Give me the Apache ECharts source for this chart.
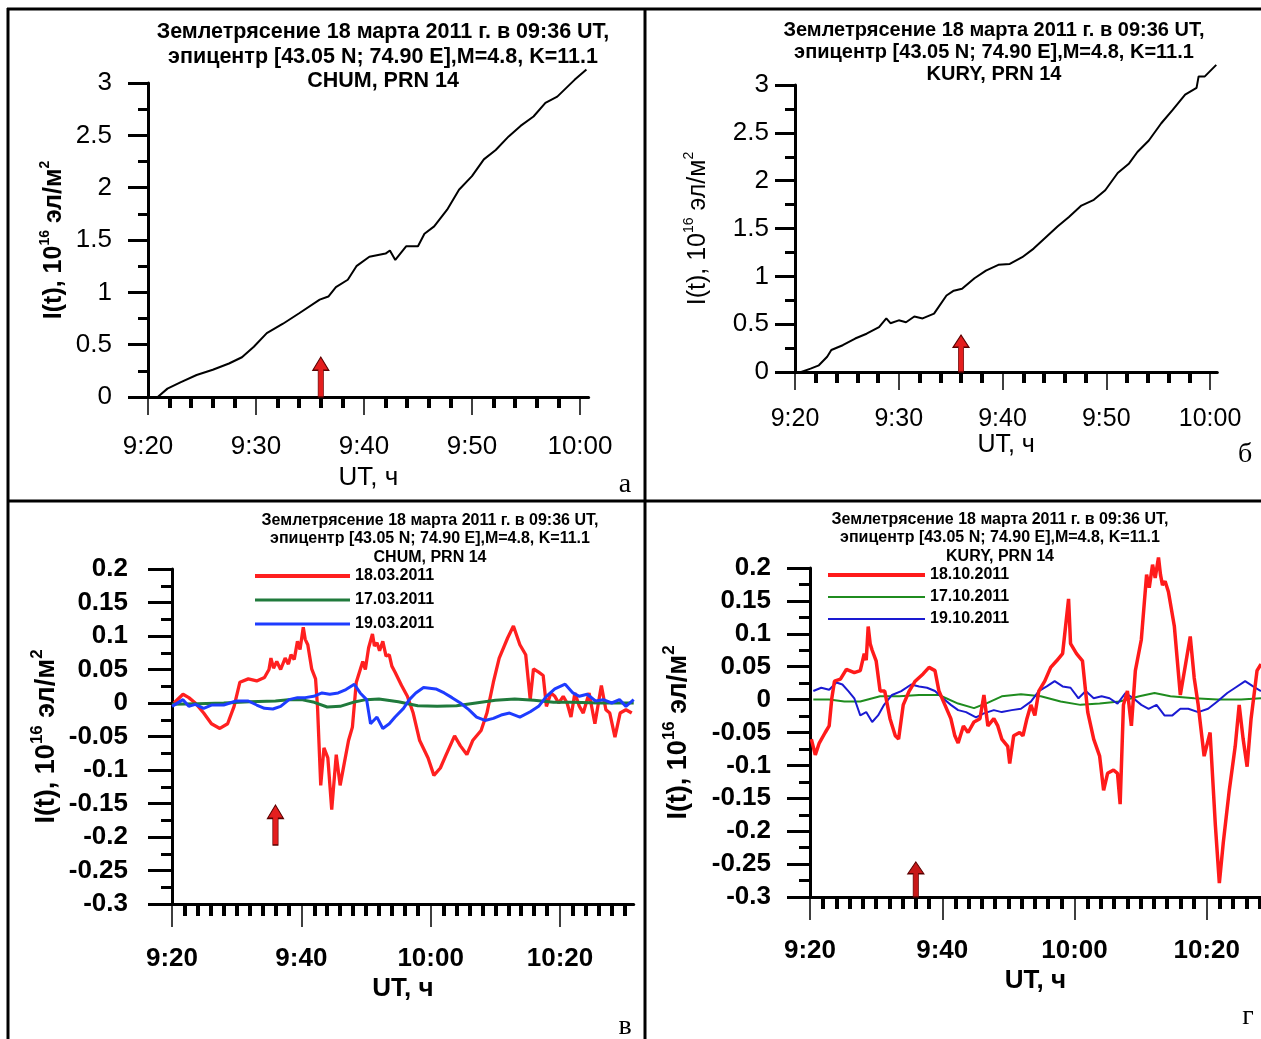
<!DOCTYPE html>
<html><head><meta charset="utf-8">
<script src="https://cdn.jsdelivr.net/npm/echarts@6/dist/echarts.min.js"></script>
<style>html,body{margin:0;padding:0;background:#fff}#c{width:1261px;height:1039px}</style>
</head><body><div id="c"></div>
<script>
// ---- data: time in minutes after 9:20 UT, TEC in 10^16 el/m^2 ----
const aTime = [0.9,1.8,3.0,4.5,6.0,7.5,8.7,9.8,11.0,12.5,14.0,15.9,16.7,17.4,18.5,19.3,20.5,22.0,22.4,22.9,23.9,25.0,25.6,26.5,27.7,28.8,30.0,31.1,32.2,33.4,34.5,35.7,36.8,37.9,39.5,40.6];
const aTec  = [0,0.08,0.14,0.21,0.26,0.32,0.38,0.48,0.61,0.70,0.80,0.93,0.96,1.05,1.12,1.25,1.34,1.37,1.40,1.31,1.44,1.44,1.56,1.63,1.79,1.98,2.11,2.27,2.36,2.49,2.59,2.68,2.81,2.87,3.03,3.13];

const bTime = [0.6,1.5,2.3,3.1,3.5,4.6,5.8,6.9,8.1,8.8,9.2,10.0,10.7,11.5,12.3,13.4,14.6,15.3,16.1,17.3,18.4,19.6,20.7,21.9,23.0,24.1,25.3,26.4,27.6,28.8,29.9,31.1,32.2,33.0,34.1,35.3,36.4,37.6,38.7,38.9,39.5,40.6];
const bTec  = [0,0.035,0.07,0.16,0.23,0.28,0.35,0.40,0.47,0.56,0.51,0.54,0.52,0.58,0.56,0.61,0.80,0.85,0.87,0.98,1.06,1.12,1.13,1.20,1.29,1.40,1.52,1.62,1.74,1.80,1.90,2.08,2.18,2.30,2.42,2.60,2.74,2.90,2.97,3.09,3.09,3.21];

const vRedTime = [0.3,1.7,2.6,3.6,4.9,6.1,7.4,8.6,9.6,10.5,11.8,13.1,14.3,15.0,15.3,15.7,16.2,16.8,17.5,18.0,18.4,18.9,19.4,19.8,20.3,20.6,21.0,21.6,22.2,22.5,23.0,23.5,24.1,24.7,25.4,26.0,26.6,27.3,27.9,28.5,29.5,29.9,30.4,31.0,31.3,31.7,32.1,32.6,33.1,33.6,34.0,34.5,35.5,36.4,37.3,38.3,39.6,40.5,41.5,42.4,43.7,44.6,45.6,46.5,47.8,48.7,49.7,50.6,51.9,52.8,53.8,54.7,55.4,55.9,56.7,57.4,57.9,58.6,59.2,59.8,60.5,61.1,61.7,62.3,63.0,63.6,64.5,65.4,66.4,67.1,67.7,68.5,69.3,70.2,71.1];
const vRed     = [0,0.013,0.008,0,-0.015,-0.031,-0.038,-0.031,-0.005,0.031,0.036,0.033,0.038,0.05,0.067,0.052,0.062,0.05,0.067,0.058,0.072,0.065,0.092,0.08,0.113,0.095,0.087,0.051,0.036,-0.005,-0.123,-0.067,-0.082,-0.159,-0.077,-0.123,-0.092,-0.056,-0.036,0.031,0.062,0.05,0.082,0.103,0.085,0.09,0.078,0.092,0.07,0.072,0.055,0.046,0.026,0.010,-0.015,-0.056,-0.082,-0.108,-0.097,-0.077,-0.049,-0.064,-0.077,-0.056,-0.041,-0.015,0.031,0.067,0.097,0.115,0.087,0.072,0.005,0.051,0.046,0.041,-0.005,0.015,0.010,0,0.010,0,-0.021,0.015,-0.005,-0.015,0.015,-0.031,0.026,-0.010,-0.015,-0.051,-0.015,-0.010,-0.015];
const vGreenTime = [0,4,8,12,16,18,20,22,24,26,28,30,32,35,38,41,44,47,50,53,56,59,62,66,71.4];
const vGreen     = [-0.002,-0.001,0,0.002,0.003,0.005,0.005,0.001,-0.006,-0.005,0.001,0.005,0.006,0.002,-0.004,-0.005,-0.004,0,0.004,0.006,0.004,0.001,0.001,0,0];
const vBlueTime = [0,1.7,2.6,3.6,4.9,6.1,8.0,9.9,11.8,13.1,14.3,15.6,16.8,18.1,19.4,20.6,21.9,23.2,24.4,25.7,26.9,28.2,29.1,30.1,30.7,31.7,32.6,33.6,34.5,35.8,36.7,37.7,38.9,40.8,42.1,43.3,44.6,45.9,47.1,48.4,49.7,50.9,52.2,53.8,55.4,56.7,57.9,59.2,60.8,62.0,63.0,64.2,65.5,66.7,68.0,69.2,70.2,71.4];
const vBlue     = [-0.005,0.005,-0.005,-0.002,-0.008,-0.003,-0.003,0.003,0.003,-0.003,-0.008,-0.009,-0.005,0.005,0.008,0.008,0.010,0.015,0.013,0.015,0.020,0.028,0.015,0.005,-0.031,-0.021,-0.038,-0.031,-0.021,-0.008,0.005,0.015,0.023,0.021,0.015,0.008,0,-0.010,-0.021,-0.026,-0.023,-0.018,-0.015,-0.021,-0.013,-0.005,0.010,0.021,0.028,0.015,0.010,0.013,0.003,0.005,0,0.005,-0.005,0.005];

const gRedTime = [0.2,0.8,1.4,2.3,2.9,3.3,3.7,4.6,5.5,6.7,7.6,8.2,8.5,8.8,9.1,9.4,10.0,10.6,11.3,12.1,12.9,13.4,14.1,15.0,15.9,17.1,18.0,18.9,19.5,20.4,21.3,21.9,22.4,23.2,23.9,24.8,25.7,26.3,26.9,27.8,28.4,29.0,29.9,30.2,30.8,31.7,32.2,32.8,33.4,34.0,34.6,35.5,36.4,37.3,38.2,39.1,39.4,40.3,41.2,42.0,42.9,43.8,44.4,45.0,45.9,46.5,46.9,47.4,48.0,48.6,49.2,50.1,50.9,51.3,51.8,52.2,52.7,53.0,53.3,53.7,54.2,55.1,56.0,56.8,57.5,58.1,58.7,59.6,60.5,61.3,61.9,62.5,63.4,64.3,64.9,65.5,66.1,66.7,67.6,68.2];
const gRed     = [-0.060,-0.084,-0.066,-0.050,-0.040,0.002,0.028,0.031,0.046,0.041,0.044,0.070,0.06,0.111,0.085,0.075,0.059,0.013,0.013,-0.029,-0.055,-0.060,-0.008,0.013,0.028,0.039,0.049,0.044,0.013,-0.008,-0.029,-0.055,-0.066,-0.040,-0.050,-0.034,-0.029,0.007,-0.040,-0.029,-0.040,-0.060,-0.071,-0.097,-0.055,-0.050,-0.055,-0.029,-0.008,-0.024,0.013,0.028,0.049,0.059,0.070,0.153,0.085,0.070,0.059,-0.019,-0.060,-0.086,-0.138,-0.112,-0.107,-0.112,-0.159,-0.008,0.013,-0.040,0.044,0.091,0.190,0.17,0.205,0.185,0.216,0.19,0.174,0.18,0.164,0.111,0.007,0.054,0.096,0.033,-0.008,-0.086,-0.050,-0.191,-0.279,-0.217,-0.138,-0.071,-0.008,-0.060,-0.102,-0.029,0.044,0.054];
const gGreenTime = [0.5,2.9,5.2,7.6,10.6,13.5,16.5,19.5,22.4,24.8,26.6,29.0,31.9,34.9,37.9,40.9,43.8,46.8,49.8,52.1,54.5,58.1,61.6,65.2,68.2];
const gGreen     = [0,0,-0.003,-0.003,0.005,0.005,0.007,0.007,-0.006,-0.013,-0.006,0.005,0.008,0.005,-0.003,-0.008,-0.006,-0.003,0.005,0.010,0.005,0.002,0,0,0.002];
const gBlueTime = [0.5,1.7,2.9,4.0,4.9,5.8,6.7,7.6,8.5,9.4,10.3,11.2,12.4,13.8,15.3,16.5,17.7,18.9,20.1,21.3,22.4,23.6,25.1,26.3,27.8,29.0,30.5,31.9,33.4,34.6,35.8,37.0,38.2,39.4,40.6,41.7,42.9,44.1,45.3,46.5,47.7,48.9,50.1,51.2,52.4,53.6,54.8,56.0,57.2,58.7,60.2,61.6,63.1,64.3,65.8,67.0,68.2];
const gBlue     = [0.013,0.018,0.015,0.026,0.023,0.013,0.002,-0.024,-0.019,-0.034,-0.024,-0.008,0.007,0.013,0.023,0.020,0.018,0.013,0.002,-0.008,-0.016,-0.019,-0.027,-0.021,-0.016,-0.019,-0.016,-0.014,-0.003,0.013,0.020,0.028,0.020,0.018,0.002,0.013,0.002,0.005,0.002,-0.006,0.010,0.002,-0.008,-0.014,-0.008,-0.024,-0.024,-0.014,-0.014,-0.019,-0.014,-0.003,0.010,0.018,0.028,0.020,0.013];

// tick values (minutes after 9:20)
const abMajor = [0,10,20,30,40];
const abMinor = [2,4,6,8,12,14,16,18,22,24,26,28,32,34,36,38];
const vgMajor = [0,20,40,60];
const vgMinor = [2,4,6,8,10,12,14,16,18,22,24,26,28,30,32,34,36,38,42,44,46,48,50,52,54,56,58,62,64,66,68,70];
const quakeMinute = 16; // 09:36 UT

const titleAB = ['Землетрясение 18 марта 2011 г. в 09:36 UT,', 'эпицентр [43.05 N; 74.90 E],M=4.8, K=11.1'];
const legendV = ['18.03.2011','17.03.2011','19.03.2011'];
const legendG = ['18.10.2011','17.10.2011','19.10.2011'];

// ---- helpers ----
const pairs = (t, v) => t.map((x, i) => [x, v[i]]);
const fmt = v => { const tot = 560 + Math.round(v); const h = Math.floor(tot / 60), m = tot % 60; return h + ':' + (m < 10 ? '0' : '') + m; };
const SANS = "'Liberation Sans', Arial, sans-serif";
const ARROW = 'path://M7,60 L7,20 L1,20 L10,0 L19,20 L13,20 L13,60 Z';
const THICK = 'path://M0,0H100V4H0Z';
const THIN3 = 'path://M0,0H100V3.4H0Z';
const THIN = 'path://M0,0H100V2H0Z';

function mainX(grid, max, majors, opt) {
  return {
    type: 'value', gridIndex: grid, min: 0, max: max, position: 'bottom',
    axisLine: { show: true, onZero: false, lineStyle: { color: '#000', width: 3 } },
    axisTick: { show: true, customValues: majors, length: opt.tickLen, lineStyle: { color: '#000', width: 1.5 } },
    axisLabel: { customValues: majors, formatter: fmt, margin: opt.margin, color: '#000',
      fontSize: opt.fs, fontWeight: opt.fw, fontFamily: SANS },
    splitLine: { show: false },
    name: 'UT, ч', nameLocation: 'middle', nameGap: opt.nameGap, nameMoveOverlap: false,
    nameTextStyle: { color: '#000', fontSize: opt.fs, fontWeight: opt.fw, fontFamily: SANS }
  };
}
function minorX(grid, max, minors, len) {
  return {
    type: 'value', gridIndex: grid, min: 0, max: max, position: 'bottom',
    axisLine: { show: false, onZero: false },
    axisTick: { show: true, customValues: minors, length: len, lineStyle: { color: '#000', width: 4 } },
    axisLabel: { show: false }, splitLine: { show: false }
  };
}
function yAx(grid, min, max, interval, opt) {
  return {
    type: 'value', gridIndex: grid, min: min, max: max, interval: interval,
    axisLine: { show: true, onZero: false, lineStyle: { color: '#000', width: 3 } },
    axisTick: { show: true, length: opt.tickLen, lineStyle: { color: '#000', width: 3 } },
    minorTick: { show: true, splitNumber: 2, length: opt.minorLen, lineStyle: { color: '#000', width: 3 } },
    axisLabel: { margin: opt.margin, color: '#000', fontSize: opt.fs, fontWeight: opt.fw, fontFamily: SANS },
    splitLine: { show: false },
    name: '{b|I(t), 10}{s|16}{b| эл/м}{s|2}', nameLocation: 'middle', nameGap: opt.nameGap, nameRotate: 90,
    nameMoveOverlap: false,
    nameTextStyle: { color: '#000', fontFamily: SANS,
      rich: {
        b: { fontSize: opt.nfs, fontWeight: opt.nfw, fontFamily: SANS, color: '#000', verticalAlign: 'bottom', lineHeight: opt.nfs + 4 },
        s: { fontSize: opt.sfs, fontWeight: opt.nfw, fontFamily: SANS, color: '#000', verticalAlign: 'top', lineHeight: opt.sfs + 2 }
      } }
  };
}
function arrow(x, y, h, fill, border) {
  return {
    symbol: ARROW, symbolSize: [16, h], symbolKeepAspect: false, symbolOffset: [0, '-50%'],
    silent: true, label: { show: false },
    itemStyle: { color: fill, borderColor: border, borderWidth: 1 },
    data: [{ coord: [x, y] }]
  };
}
function titleBox(x, y, lines, fs, lh) {
  return { text: lines.join('\n'), left: x, top: y, textAlign: 'center', padding: 0,
    textStyle: { fontSize: fs, lineHeight: lh, fontWeight: 'bold', fontFamily: SANS, color: '#000' } };
}

const chart = echarts.init(document.getElementById('c'), null, { renderer: 'canvas' });
chart.setOption({
  animation: false,
  backgroundColor: '#fff',
  title: [
    titleBox(383, 20, titleAB.concat(['CHUM, PRN 14']), 21.5, 24.5),
    titleBox(994, 19, titleAB.concat(['KURY, PRN 14']), 20, 22),
    titleBox(430, 511, titleAB.concat(['CHUM, PRN 14']), 16, 18.5),
    titleBox(1000, 510, titleAB.concat(['KURY, PRN 14']), 16, 18.5)
  ],
  grid: [
    { left: 148, top: 83, width: 440.6, height: 314 },
    { left: 795, top: 85, width: 422.3, height: 287 },
    { left: 172, top: 569, width: 461.7, height: 335 },
    { left: 810, top: 568, width: 451.3, height: 329 }
  ],
  xAxis: [
    mainX(0, 40.8, abMajor, { tickLen: 18, margin: 37, fs: 26, fw: 'normal', nameGap: 68 }),
    minorX(0, 40.8, abMinor, 11),
    mainX(1, 40.7, abMajor, { tickLen: 18, margin: 35, fs: 25, fw: 'normal', nameGap: 61 }),
    minorX(1, 40.7, abMinor, 11),
    mainX(2, 71.4, vgMajor, { tickLen: 23, margin: 42, fs: 26, fw: 'bold', nameGap: 72 }),
    minorX(2, 71.4, vgMinor, 12),
    mainX(3, 68.2, vgMajor, { tickLen: 23, margin: 41, fs: 26, fw: 'bold', nameGap: 71 }),
    minorX(3, 68.2, vgMinor, 12)
  ],
  yAxis: [
    yAx(0, 0, 3, 0.5, { tickLen: 20, minorLen: 10, margin: 36, fs: 26, fw: 'normal', nameGap: 81, nfs: 25, sfs: 14, nfw: 'bold' }),
    yAx(1, 0, 3, 0.5, { tickLen: 20, minorLen: 10, margin: 26, fs: 26, fw: 'normal', nameGap: 84, nfs: 25, sfs: 14, nfw: 'normal' }),
    yAx(2, -0.3, 0.2, 0.05, { tickLen: 24, minorLen: 11, margin: 44, fs: 26, fw: 'bold', nameGap: 112, nfs: 27, sfs: 17, nfw: 'bold' }),
    yAx(3, -0.3, 0.2, 0.05, { tickLen: 23, minorLen: 11, margin: 39, fs: 26, fw: 'bold', nameGap: 118, nfs: 27, sfs: 17, nfw: 'bold' })
  ],
  legend: [
    { data: [{ name: legendV[0], icon: THICK }, { name: legendV[1], icon: THIN3 }, { name: legendV[2], icon: THIN3 }],
      orient: 'vertical', left: 255, top: 567, padding: 0, itemWidth: 95, itemHeight: 18, itemGap: 6,
      selectedMode: false, textStyle: { color: '#000', fontSize: 16, fontWeight: 'bold', fontFamily: SANS, lineHeight: 18 } },
    { data: [{ name: legendG[0], icon: THICK }, { name: legendG[1], icon: THIN }, { name: legendG[2], icon: THIN }],
      orient: 'vertical', left: 828, top: 566, padding: 0, itemWidth: 97, itemHeight: 18, itemGap: 4,
      selectedMode: false, textStyle: { color: '#000', fontSize: 16, fontWeight: 'bold', fontFamily: SANS, lineHeight: 18 } }
  ],
  series: [
    { type: 'line', name: 'CHUM', xAxisIndex: 0, yAxisIndex: 0, data: pairs(aTime, aTec), symbol: 'none', clip: false,
      lineStyle: { color: '#000', width: 2 }, markPoint: arrow(quakeMinute, 0, 40, '#e41e1e', '#5a0000') },
    { type: 'line', name: 'KURY', xAxisIndex: 2, yAxisIndex: 1, data: pairs(bTime, bTec), symbol: 'none', clip: false,
      lineStyle: { color: '#000', width: 2 }, markPoint: arrow(quakeMinute, 0, 37, '#e41e1e', '#5a0000') },
    { type: 'line', name: legendV[0], xAxisIndex: 4, yAxisIndex: 2, data: pairs(vRedTime, vRed), symbol: 'none', clip: false,
      color: '#ff2020', lineStyle: { color: '#ff2020', width: 3.3 }, markPoint: arrow(quakeMinute, -0.212, 40, '#e41e1e', '#5a0000') },
    { type: 'line', name: legendV[1], xAxisIndex: 4, yAxisIndex: 2, data: pairs(vGreenTime, vGreen), symbol: 'none', clip: false,
      color: '#207a3c', lineStyle: { color: '#207a3c', width: 3 } },
    { type: 'line', name: legendV[2], xAxisIndex: 4, yAxisIndex: 2, data: pairs(vBlueTime, vBlue), symbol: 'none', clip: false,
      color: '#1e3cff', lineStyle: { color: '#1e3cff', width: 3 } },
    { type: 'line', name: legendG[1], xAxisIndex: 6, yAxisIndex: 3, data: pairs(gGreenTime, gGreen), symbol: 'none', clip: false,
      color: '#1f8c1f', lineStyle: { color: '#1f8c1f', width: 2 } },
    { type: 'line', name: legendG[2], xAxisIndex: 6, yAxisIndex: 3, data: pairs(gBlueTime, gBlue), symbol: 'none', clip: false,
      color: '#1a1ad2', lineStyle: { color: '#1a1ad2', width: 2 } },
    { type: 'line', name: legendG[0], xAxisIndex: 6, yAxisIndex: 3, data: pairs(gRedTime, gRed), symbol: 'none', clip: false,
      color: '#ff1a1a', lineStyle: { color: '#ff1a1a', width: 3.5 }, markPoint: arrow(quakeMinute, -0.3, 35, '#c81818', '#5a0000') }
  ],
  graphic: [
    { type: 'line', shape: { x1: 8, y1: 8, x2: 8, y2: 1039 }, style: { stroke: '#000', lineWidth: 3 } },
    { type: 'line', shape: { x1: 7, y1: 9, x2: 1261, y2: 9 }, style: { stroke: '#000', lineWidth: 3 } },
    { type: 'line', shape: { x1: 645, y1: 9, x2: 645, y2: 1039 }, style: { stroke: '#000', lineWidth: 3 } },
    { type: 'line', shape: { x1: 8, y1: 501, x2: 1261, y2: 501 }, style: { stroke: '#000', lineWidth: 3 } },
    { type: 'text', x: 625, y: 485, style: { text: 'а', fontSize: 28, fontFamily: "'Liberation Serif', serif", fill: '#000', textAlign: 'center', textVerticalAlign: 'middle' } },
    { type: 'text', x: 1245, y: 455, style: { text: 'б', fontSize: 28, fontFamily: "'Liberation Serif', serif", fill: '#000', textAlign: 'center', textVerticalAlign: 'middle' } },
    { type: 'text', x: 625, y: 1027, style: { text: 'в', fontSize: 28, fontFamily: "'Liberation Serif', serif", fill: '#000', textAlign: 'center', textVerticalAlign: 'middle' } },
    { type: 'text', x: 1248, y: 1017, style: { text: 'г', fontSize: 28, fontFamily: "'Liberation Serif', serif", fill: '#000', textAlign: 'center', textVerticalAlign: 'middle' } }
  ]
});
</script></body></html>
